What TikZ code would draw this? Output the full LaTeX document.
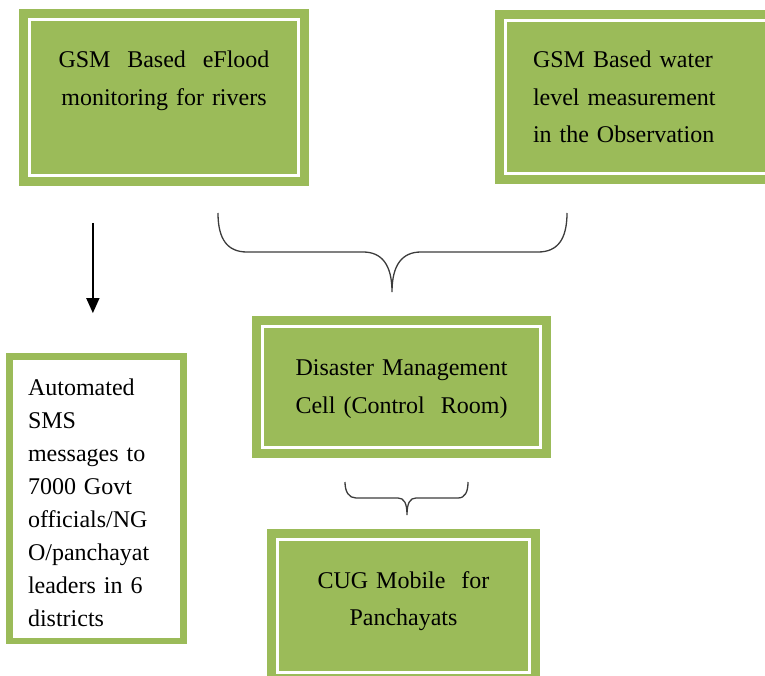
\documentclass[tikz,border=0pt]{standalone}
\usepackage{fontspec}
\setmainfont{Liberation Serif}
\usepackage{tikz}
\usetikzlibrary{arrows.meta,positioning}
\definecolor{BoxGreen}{HTML}{9BBB59}
\definecolor{BraceGray}{HTML}{3C3C3C}

\begin{document}
\begin{tikzpicture}[
  x=1pt, y=-1pt,
  every node/.style={font=\fontsize{24}{38}\selectfont},
  greenbox/.style={draw=BoxGreen,line width=9pt,double=white,double distance=3pt,
    fill=BoxGreen,inner sep=0pt,outer sep=0pt,anchor=north west,align=center},
  smsbox/.style={draw=BoxGreen,line width=6.5pt,fill=white,inner xsep=18.75pt,
    inner ysep=0pt,outer sep=0pt,anchor=north west,align=left,
    font=\fontsize{24}{33}\selectfont},
  arr/.style={-{Triangle[length=15pt,width=13pt]},line width=1.5pt},
  brace/.style={draw=BraceGray,line width=1.3pt}
]
\useasboundingbox (0,0) rectangle (765,676);
\clip (0,0) rectangle (765,676);
\node[greenbox,text width=269pt,text height=48pt,text depth=107.5pt] (eflood) at (29.5,20)
  {\makebox[211pt]{GSM\hfill Based\hfill eFlood}\\monitoring for rivers};
\node[greenbox,align=left,inner xsep=28pt,text width=247pt,text height=47.7pt,text depth=105.3pt,
  font=\fontsize{24}{37.5}\selectfont] (level) at (505,20.3)
  {GSM Based water\\level measurement\\in the Observation};
\node[greenbox,text width=278pt,text height=48.5pt,text depth=72pt] (ctrl) at (262.5,326.5)
  {Disaster Management\\Cell (Control~ Room)};
\node[greenbox,below=92.3pt of ctrl,xshift=2pt,text width=251.5pt,text height=48.7pt,text depth=84pt,
  font=\fontsize{24}{37}\selectfont] (cug) {CUG Mobile~ for\\Panchayats};
\node[smsbox,text width=136.75pt,text height=38.4pt,text depth=246pt] (sms) at (9.25,356.6)
  {Automated\\SMS\\messages to\\7000 Govt\\officials/NG\\O/panchayat\\leaders in 6\\districts};
\draw[arr,shorten <=47.5pt,shorten >=43.5pt] ([xshift=-3.5pt]sms.north |- eflood.south) -- ([xshift=-3.5pt]sms.north);
% braces
\draw[brace] (218,213) .. controls (218,240) and (228,252) .. (247,252) -- (363,252)
  .. controls (382,252) and (392,265) .. (392,292)
  .. controls (392,265) and (402,252) .. (421,252) -- (538,252)
  .. controls (557,252) and (567,240) .. (567,213);
\draw[brace] (345,482) .. controls (345,492) and (349,498) .. (356,498) -- (398,498)
  .. controls (404,498) and (407,503) .. (407,515)
  .. controls (407,503) and (410,498) .. (416,498) -- (458,498)
  .. controls (465,498) and (468,492) .. (468,482);
\end{tikzpicture}
\end{document}
